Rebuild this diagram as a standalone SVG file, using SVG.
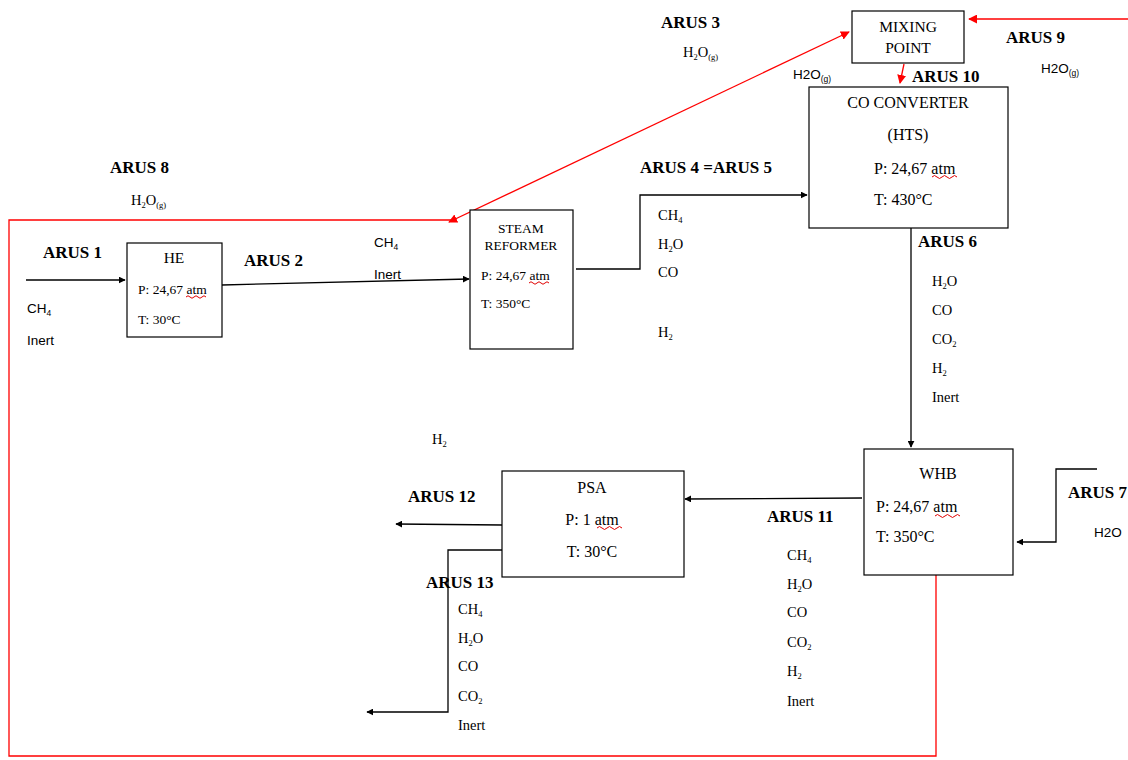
<svg xmlns="http://www.w3.org/2000/svg" width="1128" height="760" viewBox="0 0 1128 760">
<style>
.box{fill:#fff;stroke:#000;stroke-width:1.2}
.ln{fill:none;stroke:#000;stroke-width:1.3}
.rd{fill:none;stroke:#ff0000;stroke-width:1.3}
.lbl{font-family:"Liberation Serif",serif;font-weight:bold;font-size:17px;fill:#000}
.t{font-family:"Liberation Serif",serif;font-size:14.5px;fill:#000}
.tb{font-family:"Liberation Serif",serif;font-size:16px;fill:#000}
.ts{font-family:"Liberation Serif",serif;font-size:13.5px;fill:#000}
.tm{font-family:"Liberation Serif",serif;font-size:15.5px;fill:#000}
.s{font-family:"Liberation Sans",Arial,sans-serif;font-size:13.5px;fill:#000}
.sub{font-size:8.5px}
.m{text-anchor:middle}
.sq{fill:none;stroke:#e00000;stroke-width:1}
</style>
<defs>
<marker id="ab" viewBox="0 0 10 10" refX="9" refY="5" markerWidth="7" markerHeight="7" orient="auto" markerUnits="userSpaceOnUse">
<path d="M0,0 L10,5 L0,10 z" fill="#000"/>
</marker>
<marker id="ar" viewBox="0 0 10 10" refX="9" refY="5" markerWidth="9" markerHeight="9" orient="auto-start-reverse" markerUnits="userSpaceOnUse">
<path d="M0,0 L10,5 L0,10 z" fill="#ff0000"/>
</marker>
</defs>

<g id="connectors">
<line class="ln" x1="26" y1="280" x2="125" y2="280" marker-end="url(#ab)"/>
<line class="ln" x1="222" y1="285" x2="469" y2="279" marker-end="url(#ab)"/>
<polyline class="ln" points="576,269 640,269 640,195 807,195" marker-end="url(#ab)"/>
<line class="ln" x1="911" y1="228" x2="911" y2="447" marker-end="url(#ab)"/>
<polyline class="ln" points="1097,469 1056,469 1056,542 1017,542" marker-end="url(#ab)"/>
<line class="ln" x1="862" y1="498" x2="685" y2="499" marker-end="url(#ab)"/>
<line class="ln" x1="502" y1="525" x2="396" y2="524" marker-end="url(#ab)"/>
<polyline class="ln" points="502,550 448,550 448,712 367,712" marker-end="url(#ab)"/>
<line class="rd" x1="1128" y1="19" x2="969" y2="19" marker-end="url(#ar)"/>
<line class="rd" x1="904" y1="64" x2="900" y2="83" marker-end="url(#ar)"/>
<polyline class="rd" points="936,575 936,756 9,756 9,220 455,220"/>
<line class="rd" x1="449" y1="222" x2="849" y2="32" marker-start="url(#ar)" marker-end="url(#ar)"/>
</g>

<g id="mixing-point">
<rect class="box" x="852" y="11" width="112" height="52"/>
<text class="tm m" x="908" y="32">MIXING</text>
<text class="tm m" x="908" y="53">POINT</text>
</g>

<g id="co-converter">
<rect class="box" x="809" y="87" width="199" height="141"/>
<text class="tb m" x="908" y="108">CO CONVERTER</text>
<text class="tb m" x="908" y="140">(HTS)</text>
<text class="tb" x="874" y="174">P: 24,67 atm</text>
<path class="sq" d="M932,177 q2.5,-3 5,0 t5,0 t5,0 t5,0 t5,0"/>
<text class="tb" x="874" y="205">T: 430°C</text>
</g>

<g id="he">
<rect class="box" x="127" y="243" width="95" height="94"/>
<text class="tm m" x="174" y="263">HE</text>
<text class="ts" x="138" y="294">P: 24,67 atm</text>
<path class="sq" d="M186,297 q2,-2.5 4,0 t4,0 t4,0 t4,0 t4,0"/>
<text class="ts" x="138" y="324">T: 30°C</text>
</g>

<g id="steam-reformer">
<rect class="box" x="470" y="210" width="103" height="139"/>
<text class="ts m" x="521" y="233">STEAM</text>
<text class="ts m" x="521" y="250">REFORMER</text>
<text class="ts" x="481" y="280">P: 24,67 atm</text>
<path class="sq" d="M529,283 q2,-2.5 4,0 t4,0 t4,0 t4,0 t4,0"/>
<text class="ts" x="481" y="308">T: 350°C</text>
</g>

<g id="whb">
<rect class="box" x="864" y="449" width="149" height="126"/>
<text class="tb m" x="938" y="479">WHB</text>
<text class="tb" x="876" y="512">P: 24,67 atm</text>
<path class="sq" d="M935,516 q2.5,-3 5,0 t5,0 t5,0 t5,0 t5,0"/>
<text class="tb" x="876" y="542">T: 350°C</text>
</g>

<g id="psa">
<rect class="box" x="502" y="471" width="182" height="106"/>
<text class="tb m" x="592" y="493">PSA</text>
<text class="tb m" x="592" y="525">P: 1 atm</text>
<path class="sq" d="M597,528 q2.5,-3 5,0 t5,0 t5,0 t5,0 t5,0"/>
<text class="tb m" x="592" y="557">T: 30°C</text>
</g>

<g id="labels">
<text class="lbl" x="661" y="28">ARUS 3</text>
<text class="t" x="683" y="57">H<tspan class="sub" dy="3">2</tspan><tspan dy="-3">O</tspan><tspan class="sub" dy="3">(g)</tspan></text>
<text class="lbl" x="1006" y="43">ARUS 9</text>
<text class="s" x="1041" y="73">H2O<tspan class="sub" dy="3">(g)</tspan></text>
<text class="s" x="793" y="79">H2O<tspan class="sub" dy="3">(g)</tspan></text>
<text class="lbl" x="912" y="82">ARUS 10</text>

<text class="lbl" x="110" y="173">ARUS 8</text>
<text class="t" x="131" y="205">H<tspan class="sub" dy="3">2</tspan><tspan dy="-3">O</tspan><tspan class="sub" dy="3">(g)</tspan></text>

<text class="lbl" x="43" y="258">ARUS 1</text>
<text class="s" x="27" y="313">CH<tspan class="sub" dy="3">4</tspan></text>
<text class="s" x="27" y="345">Inert</text>

<text class="lbl" x="244" y="266">ARUS 2</text>
<text class="s" x="374" y="247">CH<tspan class="sub" dy="3">4</tspan></text>
<text class="s" x="374" y="279">Inert</text>

<text class="lbl" x="640" y="173">ARUS 4 =ARUS 5</text>
<text class="t" x="658" y="220">CH<tspan class="sub" dy="3">4</tspan></text>
<text class="t" x="658" y="249">H<tspan class="sub" dy="3">2</tspan><tspan dy="-3">O</tspan></text>
<text class="t" x="658" y="277">CO</text>
<text class="t" x="658" y="337">H<tspan class="sub" dy="3">2</tspan></text>

<text class="lbl" x="918" y="247">ARUS 6</text>
<text class="t" x="932" y="286">H<tspan class="sub" dy="3">2</tspan><tspan dy="-3">O</tspan></text>
<text class="t" x="932" y="315">CO</text>
<text class="t" x="932" y="344">CO<tspan class="sub" dy="3">2</tspan></text>
<text class="t" x="932" y="373">H<tspan class="sub" dy="3">2</tspan></text>
<text class="t" x="932" y="402">Inert</text>

<text class="lbl" x="1068" y="498">ARUS 7</text>
<text class="s" x="1094" y="537">H2O</text>

<text class="lbl" x="767" y="522">ARUS 11</text>
<text class="t" x="787" y="560">CH<tspan class="sub" dy="3">4</tspan></text>
<text class="t" x="787" y="589">H<tspan class="sub" dy="3">2</tspan><tspan dy="-3">O</tspan></text>
<text class="t" x="787" y="617">CO</text>
<text class="t" x="787" y="647">CO<tspan class="sub" dy="3">2</tspan></text>
<text class="t" x="787" y="676">H<tspan class="sub" dy="3">2</tspan></text>
<text class="t" x="787" y="706">Inert</text>

<text class="t" x="432" y="444">H<tspan class="sub" dy="3">2</tspan></text>
<text class="lbl" x="408" y="502">ARUS 12</text>

<text class="lbl" x="426" y="588">ARUS 13</text>
<text class="t" x="458" y="614">CH<tspan class="sub" dy="3">4</tspan></text>
<text class="t" x="458" y="643">H<tspan class="sub" dy="3">2</tspan><tspan dy="-3">O</tspan></text>
<text class="t" x="458" y="671">CO</text>
<text class="t" x="458" y="701">CO<tspan class="sub" dy="3">2</tspan></text>
<text class="t" x="458" y="730">Inert</text>
</g>
</svg>
